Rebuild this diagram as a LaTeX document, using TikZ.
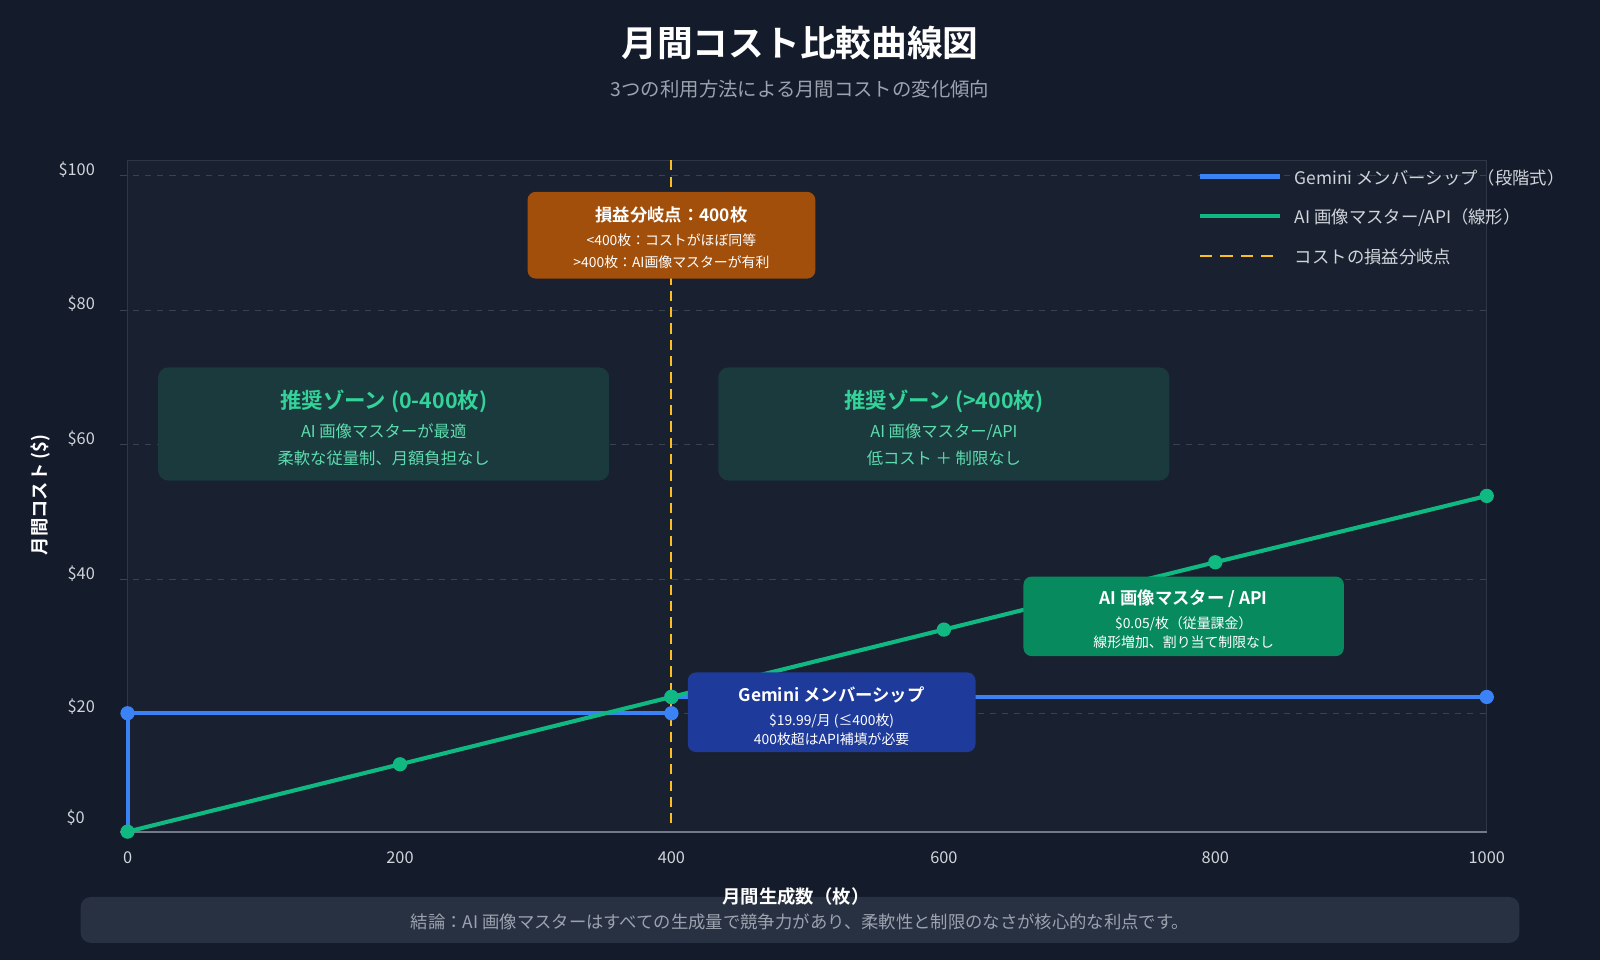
\documentclass[tikz,border=0pt]{standalone}
\usepackage{fontspec}
\setmainfont{Noto Sans CJK JP}
\newfontfamily\jpb{Noto Sans CJK JP Bold}
\definecolor{bg}{HTML}{141B2B}
\definecolor{plotbg}{HTML}{19202F}
\definecolor{grid}{HTML}{3A4252}
\definecolor{gem}{HTML}{3B82F6}
\definecolor{ai}{HTML}{10B981}
\definecolor{gold}{HTML}{FBBF24}
\definecolor{tick}{HTML}{D1D5DB}
\definecolor{sub}{HTML}{9CA3AF}
\definecolor{zone}{HTML}{1A3A3E}
\definecolor{zonet}{HTML}{34D399}
\definecolor{orng}{HTML}{A34F0C}
\definecolor{gbox}{HTML}{1E3A9A}
\definecolor{abox}{HTML}{078A5E}
\definecolor{foot}{HTML}{283141}
\tikzset{
 lbl/.style={text=tick,font=\fontsize{8}{10}\selectfont},
 gl/.style={grid,dashed,line width=0.5pt},
 dotg/.style={circle,fill=gem,inner sep=0pt,minimum size=7pt},
 dota/.style={circle,fill=ai,inner sep=0pt,minimum size=7pt},
 zbox/.style={fill=zone,rounded corners=5pt},
}
\begin{document}
\begin{tikzpicture}[x=0.5pt,y=-0.5pt]
\fill[bg] (0,0) rectangle (1568,941);
\useasboundingbox (0,0) rectangle (1568,941);
\fill[plotbg] (125,157) rectangle (1457,815);
\draw[grid!70!bg,line width=0.4pt] (125,157) rectangle (1457,815);
\node[text=white,font=\jpb\fontsize{17.5}{20}\selectfont] (title) at (784,42) {月間コスト比較曲線図};
\node[text=sub,font=\fontsize{9.5}{12}\selectfont] (subt) at (784,87) {3つの利用方法による月間コストの変化傾向};
\foreach \yy/\t in {172/\$100,304/\$80,436/\$60,568/\$40,699/\$20}{
 \draw[gl] (118,\yy) -- (1457,\yy);
 \node[lbl,anchor=east] at (100,\yy-6) {\t};
}
\node[lbl,anchor=east] at (90,801) {\$0};
\draw[sub!70!bg,line width=1pt] (118,815) -- (1457,815);
\foreach \xx/\t in {125/0,392/200,658/400,925/600,1191/800,1457/1000}
 \node[lbl] at (\xx,841) {\t};
\node[text=white,font=\jpb\fontsize{9}{11}\selectfont,rotate=90] (ylab) at (40,485) {月間コスト (\$)};
\fill[zbox] (155,360) rectangle (597,471);
\node[text=zonet,font=\jpb\fontsize{10.5}{13}\selectfont] (z1) at (376,393) {推奨ゾーン (0-400枚)};
\node[text=zonet!80!white,font=\fontsize{8}{10}\selectfont,align=center] (z1b) at (376,436) {AI 画像マスターが最適\\[3pt]柔軟な従量制、月額負担なし};
\fill[zbox] (704,360) rectangle (1146,471);
\node[text=zonet,font=\jpb\fontsize{10.5}{13}\selectfont] (z2) at (925,393) {推奨ゾーン (>400枚)};
\node[text=zonet!80!white,font=\fontsize{8}{10}\selectfont,align=center] (z2b) at (925,436) {AI 画像マスター/API\\[3pt]低コスト ＋ 制限なし};
\coordinate (g0) at (125,815); \coordinate (g1) at (125,699); \coordinate (g2) at (658,699);
\coordinate (g3) at (658,683); \coordinate (g4) at (1457,683);
\draw[gem,line width=2pt] (g0) -- (g1) -- (g2);
\draw[gem,line width=2pt] (g3) -- (g4);
\draw[gold,line width=1pt,dash pattern=on 5pt off 3pt] (658,157) -- (658,810);
\coordinate (a0) at (125,815); \coordinate (a1) at (392,749); \coordinate (a2) at (658,683);
\coordinate (a3) at (925,617); \coordinate (a4) at (1191,551); \coordinate (a5) at (1457,486);
\node[dotg] at (g1) {}; \node[dotg] at (g2) {}; \node[dotg] at (g3) {}; \node[dotg] at (g4) {};
\draw[ai,line width=2pt] (a0) -- (a1) -- (a2) -- (a3) -- (a4) -- (a5);
\foreach \p in {a0,a1,a2,a3,a4,a5} \node[dota] at (\p) {};
\fill[orng,rounded corners=4pt] (517,188) rectangle (799,273);
\node[text=white,font=\jpb\fontsize{8.5}{10}\selectfont] (be) at (658,211) {損益分岐点：400枚};
\node[text=white,font=\fontsize{6.8}{8}\selectfont,align=center] (beb) at (658,246) {<400枚：コストがほぼ同等\\[3pt]>400枚：AI画像マスターが有利};
\fill[gbox,rounded corners=4pt] (674,659) rectangle (956,737);
\node[text=white,font=\jpb\fontsize{8.5}{10}\selectfont] (gb) at (815,681) {Gemini メンバーシップ};
\node[text=white,font=\fontsize{6.8}{8}\selectfont,align=center] (gbb) at (815,715) {\$19.99/月 (≤400枚)\\[1pt]400枚超はAPI補填が必要};
\fill[abox,rounded corners=4pt] (1003,565) rectangle (1317,643);
\node[text=white,font=\jpb\fontsize{8.5}{10}\selectfont] (ab) at (1160,587) {AI 画像マスター / API};
\node[text=white,font=\fontsize{6.8}{8}\selectfont,align=center] (abb) at (1160,620) {\$0.05/枚（従量課金）\\[1pt]線形増加、割り当て制限なし};
\draw[gem,line width=2pt] (1176,173) -- (1254,173);
\node[lbl,anchor=west,font=\fontsize{8.5}{10}\selectfont] at (1262,174) {Gemini メンバーシップ（段階式）};
\draw[ai,line width=2pt] (1176,212) -- (1254,212);
\node[lbl,anchor=west,font=\fontsize{8.5}{10}\selectfont] at (1262,213) {AI 画像マスター/API（線形）};
\draw[gold,line width=1.3pt,dash pattern=on 6pt off 4pt] (1176,251) -- (1254,251);
\node[lbl,anchor=west,font=\fontsize{8.5}{10}\selectfont] at (1262,252) {コストの損益分岐点};
\fill[foot,rounded corners=5pt] (79,879) rectangle (1489,924);
\node[text=white,font=\jpb\fontsize{9}{11}\selectfont] (xlab) at (780,879) {月間生成数（枚）};
\node[text=sub,font=\fontsize{8.5}{10}\selectfont] (ft) at (784,903) {結論：AI 画像マスターはすべての生成量で競争力があり、柔軟性と制限のなさが核心的な利点です。};
\end{tikzpicture}
\end{document}
